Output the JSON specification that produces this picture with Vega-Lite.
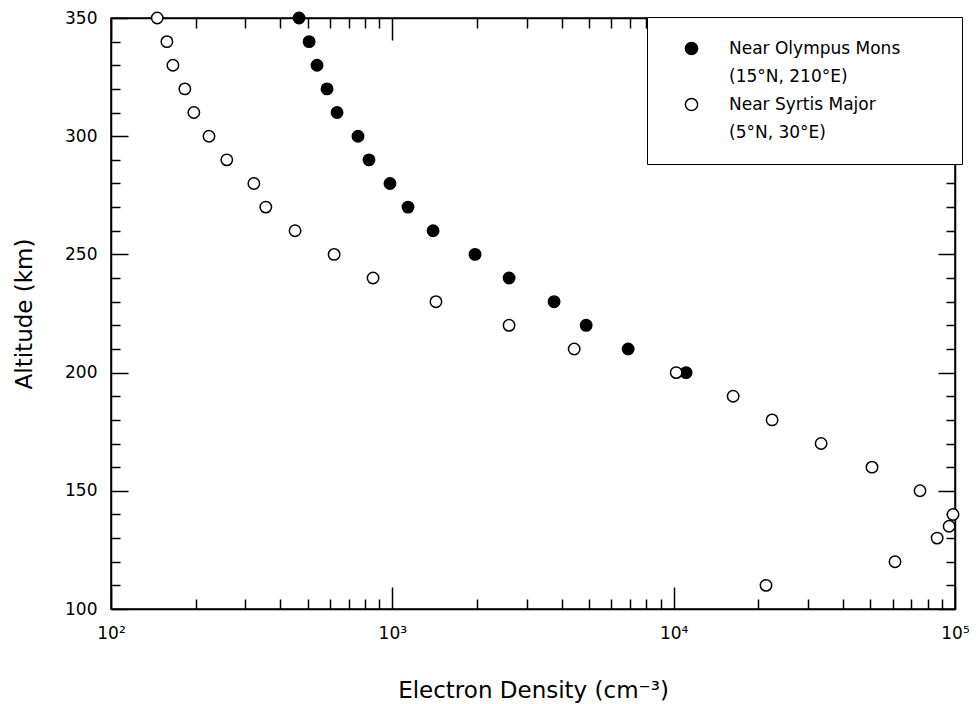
{
  "$schema": "https://vega.github.io/schema/vega-lite/v6.json",
  "width": 844,
  "height": 591,
  "autosize": {"type": "none"},
  "padding": {"left": 111, "top": 18, "right": 22, "bottom": 95},
  "background": "white",
  "config": {
    "view": {"stroke": "black", "strokeWidth": 1.5},
    "font": "DejaVu Sans",
    "style": {"guide-label": {"lineHeight": 28}},
    "axis": {
      "domainColor": "black", "domainWidth": 1.5,
      "tickColor": "black", "tickWidth": 1.5,
      "grid": false, "labelColor": "black", "titleColor": "black",
      "labelFont": "DejaVu Sans", "titleFont": "DejaVu Sans",
      "labelFontSize": 17, "titleFontSize": 23, "titleFontWeight": "normal",
      "labelOverlap": false, "labelFlush": false
    }
  },
  "data": {
    "values": [
      {"site": "Near Olympus Mons", "altitude": 350, "density": 466},
      {"site": "Near Olympus Mons", "altitude": 340, "density": 506},
      {"site": "Near Olympus Mons", "altitude": 330, "density": 540},
      {"site": "Near Olympus Mons", "altitude": 320, "density": 586},
      {"site": "Near Olympus Mons", "altitude": 310, "density": 636},
      {"site": "Near Olympus Mons", "altitude": 300, "density": 755},
      {"site": "Near Olympus Mons", "altitude": 290, "density": 826},
      {"site": "Near Olympus Mons", "altitude": 280, "density": 981},
      {"site": "Near Olympus Mons", "altitude": 270, "density": 1137},
      {"site": "Near Olympus Mons", "altitude": 260, "density": 1396},
      {"site": "Near Olympus Mons", "altitude": 250, "density": 1968},
      {"site": "Near Olympus Mons", "altitude": 240, "density": 2600},
      {"site": "Near Olympus Mons", "altitude": 230, "density": 3758},
      {"site": "Near Olympus Mons", "altitude": 220, "density": 4886},
      {"site": "Near Olympus Mons", "altitude": 210, "density": 6890},
      {"site": "Near Olympus Mons", "altitude": 200, "density": 11070},
      {"site": "Near Syrtis Major", "altitude": 350, "density": 146},
      {"site": "Near Syrtis Major", "altitude": 340, "density": 158},
      {"site": "Near Syrtis Major", "altitude": 330, "density": 166},
      {"site": "Near Syrtis Major", "altitude": 320, "density": 183},
      {"site": "Near Syrtis Major", "altitude": 310, "density": 197},
      {"site": "Near Syrtis Major", "altitude": 300, "density": 223},
      {"site": "Near Syrtis Major", "altitude": 290, "density": 258},
      {"site": "Near Syrtis Major", "altitude": 280, "density": 322},
      {"site": "Near Syrtis Major", "altitude": 270, "density": 355},
      {"site": "Near Syrtis Major", "altitude": 260, "density": 451},
      {"site": "Near Syrtis Major", "altitude": 250, "density": 621},
      {"site": "Near Syrtis Major", "altitude": 240, "density": 854},
      {"site": "Near Syrtis Major", "altitude": 230, "density": 1429},
      {"site": "Near Syrtis Major", "altitude": 220, "density": 2600},
      {"site": "Near Syrtis Major", "altitude": 210, "density": 4430},
      {"site": "Near Syrtis Major", "altitude": 200, "density": 10210},
      {"site": "Near Syrtis Major", "altitude": 190, "density": 16270},
      {"site": "Near Syrtis Major", "altitude": 180, "density": 22380},
      {"site": "Near Syrtis Major", "altitude": 170, "density": 33430},
      {"site": "Near Syrtis Major", "altitude": 160, "density": 50700},
      {"site": "Near Syrtis Major", "altitude": 150, "density": 75100},
      {"site": "Near Syrtis Major", "altitude": 140, "density": 98400},
      {"site": "Near Syrtis Major", "altitude": 135, "density": 95300},
      {"site": "Near Syrtis Major", "altitude": 130, "density": 86400},
      {"site": "Near Syrtis Major", "altitude": 120, "density": 61200},
      {"site": "Near Syrtis Major", "altitude": 110, "density": 21290}
    ]
  },
  "layer": [
    {
      "mark": {"type": "point", "shape": "circle", "filled": true, "size": 130, "stroke": "black", "strokeWidth": 1.5, "opacity": 1, "clip": false},
      "encoding": {
        "x": {
          "field": "density", "type": "quantitative",
          "scale": {"type": "log", "domain": [100, 100000], "nice": false},
          "axis": {
            "orient": "bottom",
            "title": "Electron Density (cm⁻³)",
            "titleX": 422, "titleY": 88, "titleBaseline": "alphabetic",
            "values": [100,200,300,400,500,600,700,800,900,1000,2000,3000,4000,5000,6000,7000,8000,9000,10000,20000,30000,40000,50000,60000,70000,80000,90000,100000],
            "labelExpr": "datum.value == 100 ? '10²' : datum.value == 1000 ? '10³' : datum.value == 10000 ? '10⁴' : datum.value == 100000 ? '10⁵' : ''",
            "tickSize": {"condition": {"test": "datum.value == 100 || datum.value == 1000 || datum.value == 10000 || datum.value == 100000", "value": -22}, "value": -10},
            "labelPadding": 38
          }
        },
        "y": {
          "field": "altitude", "type": "quantitative",
          "scale": {"domain": [100, 350], "nice": false, "zero": false},
          "axis": {
            "orient": "left",
            "title": "Altitude (km)",
            "titleX": -80, "titleY": 295.5, "titleBaseline": "alphabetic", "titleAngle": -90,
            "values": [100,110,120,130,140,150,160,170,180,190,200,210,220,230,240,250,260,270,280,290,300,310,320,330,340,350],
            "labelExpr": "datum.value % 50 == 0 ? datum.label : ''",
            "tickSize": {"condition": {"test": "datum.value % 50 == 0", "value": -17}, "value": -9},
            "labelPadding": 31
          }
        },
        "fill": {
          "field": "site", "type": "nominal",
          "scale": {"domain": ["Near Olympus Mons", "Near Syrtis Major"], "range": ["black", "white"]},
          "legend": {
            "title": null,
            "orient": "none",
            "legendX": 536, "legendY": -1,
            "padding": 23,
            "strokeColor": "black",
            "fillColor": "white",
            "symbolType": "circle",
            "symbolSize": 150,
            "symbolStrokeColor": "black",
            "symbolStrokeWidth": 1.5,
            "symbolOffset": 13,
            "labelFont": "DejaVu Sans",
            "labelFontSize": 17,
            "labelColor": "black",
            "labelOffset": 29,
            "labelBaseline": "middle",
            "labelLimit": 500,
            "rowPadding": 10,
            "labelExpr": "datum.label == 'Near Olympus Mons' ? ['Near Olympus Mons       \u200b', '(15°N, 210°E)'] : ['Near Syrtis Major', '(5°N, 30°E)']",
            "encode": {
              "labels": {"lineHeight": {"value": 28}, "dy": {"value": 14}},
              "legend": {"strokeWidth": {"value": 1.5}}
            }
          }
        }
      }
    },
    {
      "mark": {"type": "point", "opacity": 0},
      "encoding": {
        "x": {
          "field": "density", "type": "quantitative",
          "scale": {"type": "log", "domain": [100, 100000], "nice": false},
          "axis": {
            "orient": "top", "title": null, "labels": false,
            "values": [100,200,300,400,500,600,700,800,900,1000,2000,3000,4000,5000,6000,7000,8000,9000,10000,20000,30000,40000,50000,60000,70000,80000,90000,100000],
            "tickSize": {"condition": {"test": "datum.value == 100 || datum.value == 1000 || datum.value == 10000 || datum.value == 100000", "value": -22}, "value": -10}
          }
        },
        "y": {
          "field": "altitude", "type": "quantitative",
          "scale": {"domain": [100, 350], "nice": false, "zero": false},
          "axis": {
            "orient": "right", "title": null, "labels": false,
            "values": [100,110,120,130,140,150,160,170,180,190,200,210,220,230,240,250,260,270,280,290,300,310,320,330,340,350],
            "tickSize": {"condition": {"test": "datum.value % 50 == 0", "value": -17}, "value": -9}
          }
        }
      }
    }
  ],
  "resolve": {"axis": {"x": "independent", "y": "independent"}}
}
